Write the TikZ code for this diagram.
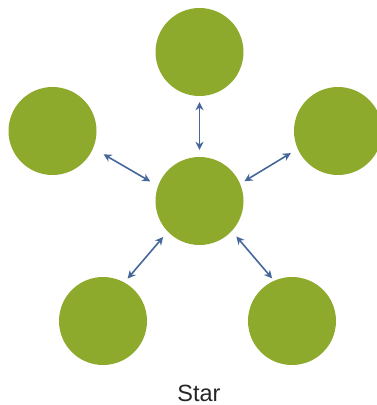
\documentclass[tikz,border=0pt]{standalone}
\usepackage{fontspec}
\setmainfont{Liberation Sans}
\usetikzlibrary{arrows.meta}
\definecolor{leafgreen}{HTML}{8EAA2D}
\definecolor{linkblue}{HTML}{46679A}

\begin{document}
\begin{tikzpicture}[
  x=1pt, y=-1pt,
  planet/.style={circle, fill=leafgreen, draw=none, minimum size=88pt, inner sep=0pt},
  link/.style={{Stealth[length=8pt,width=8pt]}-{Stealth[length=8pt,width=8pt]},
    draw=linkblue, line width=1.6pt},
  caption/.style={font=\fontsize{23.5}{26}\selectfont, text=black!85}
]
  \useasboundingbox (0,0) rectangle (377,405);

  %% Hub and the five outer nodes
  \node[planet] (hub) at (199.5,201) {};
  \node[planet] (top) at (199.5,52) {};
  \node[planet] (left) at (52.5,131) {};
  \node[planet] (right) at (338,131) {};
  \node[planet] (botleft) at (103,321) {};
  \node[planet] (botright) at (292,321) {};

  %% Links
  \draw[link, shorten <=6pt, shorten >=7pt] (top.south) -- (hub.north);
  \draw[link, shorten <=12pt, shorten >=9pt] (left.-23) -- (hub.160);
  \draw[link, shorten <=8pt, shorten >=5pt] (right.-156) -- (hub.23);
  \draw[link, shorten <=5pt, shorten >=7pt] (botleft.61) -- (hub.-136);
  \draw[link, shorten <=3pt, shorten >=7pt] (botright.114) -- (hub.-43);

  %% Caption
  \node[caption] (label) at (199,393) {Star};
\end{tikzpicture}
\end{document}
